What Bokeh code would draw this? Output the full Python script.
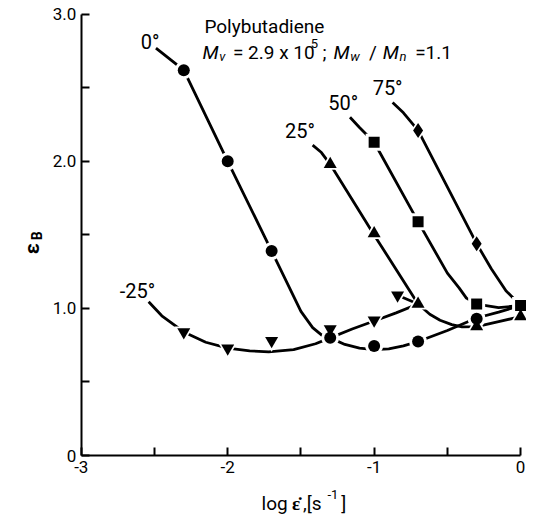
import math
from bokeh.plotting import figure
from bokeh.models import Label, FixedTicker, Range1d
from bokeh.embed import file_html
from bokeh.resources import INLINE

# ---------------- data ----------------
x_ticks = [-3.0, -2.5, -2.0, -1.5, -1.0, -0.5, 0.0]
x_tick_labels = ["-3", "", "-2", "", "-1", "", "0"]
y_ticks = [0.0, 0.5, 1.0, 1.5, 2.0, 2.5, 3.0]
y_tick_labels = ["0", "", "1.0", "", "2.0", "", "3.0"]

# measured points per temperature
pts_m25_x = [-2.3, -2.0, -1.7, -1.3, -1.0, -0.84]
pts_m25_y = [0.84, 0.73, 0.78, 0.86, 0.92, 1.09]
pts_0_x = [-2.3, -2.0, -1.7, -1.3, -1.0, -0.7, -0.3]
pts_0_y = [2.62, 2.0, 1.39, 0.80, 0.745, 0.775, 0.93]
pts_25_x = [-1.3, -1.0, -0.7, -0.3, 0.0]
pts_25_y = [1.98, 1.51, 1.03, 0.877, 0.945]
pts_50_x = [-1.0, -0.7, -0.3, 0.0]
pts_50_y = [2.13, 1.59, 1.03, 1.02]
pts_75_x = [-0.7, -0.3]
pts_75_y = [2.21, 1.44]

# hand-drawn guide curves
crv_m25_x = [-2.54, -2.45, -2.3, -2.15, -2.0, -1.85, -1.72, -1.55, -1.4, -1.3, -1.15, -1.0, -0.85, -0.7]
crv_m25_y = [1.045, 0.95, 0.84, 0.77, 0.73, 0.712, 0.705, 0.72, 0.76, 0.80, 0.86, 0.915, 0.97, 1.03]
crv_m25b_x = [-0.84, -0.7]
crv_m25b_y = [1.09, 1.03]
crv_0_x = [-2.49, -2.3, -2.0, -1.7, -1.5, -1.42, -1.36, -1.3, -1.2, -1.1, -1.0, -0.9, -0.8, -0.7, -0.5, -0.3, -0.15, 0.0]
crv_0_y = [2.77, 2.62, 2.0, 1.39, 0.98, 0.87, 0.82, 0.80, 0.755, 0.73, 0.72, 0.725, 0.745, 0.775, 0.85, 0.935, 0.975, 1.02]
crv_25_x = [-1.42, -1.36, -1.3, -1.0, -0.7, -0.62, -0.55, -0.47, -0.4, -0.3, -0.15, 0.0]
crv_25_y = [2.11, 2.06, 1.98, 1.5, 1.03, 0.96, 0.92, 0.89, 0.875, 0.877, 0.91, 0.945]
crv_50_x = [-1.165, -1.1, -1.0, -0.7, -0.5, -0.42, -0.37, -0.3, -0.15, 0.0]
crv_50_y = [2.30, 2.23, 2.13, 1.59, 1.24, 1.14, 1.07, 1.03, 1.005, 1.02]
crv_75_x = [-0.874, -0.8, -0.7, -0.3, -0.2, -0.1, 0.0]
crv_75_y = [2.40, 2.33, 2.21, 1.44, 1.27, 1.12, 1.02]

FONT = "Roboto"
W, H = 526, 521
KX, KY = W / 534.0, H / 529.0          # reference picture -> canvas
X0_PX, X1_PX = 82 * KX, 528 * KX        # canvas x of -3 and 0
Y0_PX, Y3_PX = 462 * KY, 14 * KY        # canvas y of 0 and 3
SX = (X1_PX - X0_PX) / 3.0
SY = (Y0_PX - Y3_PX) / 3.0

p = figure(width=W, height=H,
           x_range=Range1d(-3 - X0_PX / SX, -3 + (W - X0_PX) / SX),
           y_range=Range1d(-(H - Y0_PX) / SY, Y0_PX / SY),
           output_backend="svg", toolbar_location=None, min_border=0)
p.xgrid.visible = False
p.ygrid.visible = False
p.outline_line_color = None
p.background_fill_color = "white"
p.border_fill_color = "white"

for ax, ticks, labels, loc in ((p.xaxis[0], x_ticks, x_tick_labels, 0.0),
                               (p.yaxis[0], y_ticks, y_tick_labels, -3.0)):
    ax.fixed_location = loc
    ax.ticker = FixedTicker(ticks=ticks)
    ax.major_label_overrides = {t: l for t, l in zip(ticks, labels)}
    ax.bounds = (ticks[0], ticks[-1])
    ax.axis_line_width = 2
    ax.axis_line_color = "black"
    ax.major_tick_line_width = 2
    ax.major_tick_line_color = "black"
    ax.major_tick_in = 8
    ax.major_tick_out = 0
    ax.minor_tick_line_color = None
    ax.major_label_text_font = FONT
    ax.major_label_text_font_size = "17px"
    ax.major_label_text_color = "black"
    ax.major_label_standoff = 5

# curves
for cx, cy in ((crv_m25_x, crv_m25_y), (crv_m25b_x, crv_m25b_y), (crv_0_x, crv_0_y),
               (crv_25_x, crv_25_y), (crv_50_x, crv_50_y), (crv_75_x, crv_75_y)):
    p.line(cx, cy, line_width=2.8, line_color="black", line_join="round", line_cap="butt")

series = [
    (pts_m25_x, pts_m25_y, "inverted_triangle", 13),
    (pts_0_x, pts_0_y, "circle", 12),
    (pts_25_x, pts_25_y, "triangle", 13),
    (pts_50_x, pts_50_y, "square", 11),
    (pts_75_x, pts_75_y, "diamond", 15),
]
# white halos first, then the black markers
for sx, sy, mk, sz in series:
    p.scatter(sx, sy, marker=mk, size=sz + 6, fill_color="white", line_color=None)
for sx, sy, mk, sz in series:
    p.scatter(sx, sy, marker=mk, size=sz, fill_color="black", line_color=None)


def img2data(ix, iy):
    # reference-picture pixel -> data coordinates
    return -3 + (ix * KX - X0_PX) / SX, (Y0_PX - iy * KY) / SY


def lab(text, ix, iy, size, style="normal", align="left", base="alphabetic", angle=0.0):
    x, y = img2data(ix, iy)
    p.add_layout(Label(x=x, y=y, text=text, text_font=FONT, text_font_size=f"{size}px",
                       text_font_style=style, text_align=align, text_baseline=base,
                       text_color="black", angle=angle))


# temperature labels
lab("0°", 152, 42, 20, align="center", base="middle")
lab("25°", 304, 132, 20, align="center", base="middle")
lab("50°", 348, 104, 20, align="center", base="middle")
lab("75°", 393, 89, 20, align="center", base="middle")
lab("-25°", 139, 295, 20, align="center", base="middle")

# header
lab("Polybutadiene", 207, 26, 19)
lab("M", 205, 53, 19, style="italic")
lab("v", 222, 57, 13, style="italic")
lab("= 2.9 x 10", 236, 53, 19)
lab("5", 315, 44, 13)
lab(";", 327, 53, 19)
lab("M", 338, 53, 19, style="italic")
lab("w", 355, 57, 13, style="italic")
lab("/", 374, 53, 19)
lab("M", 388, 53, 19, style="italic")
lab("n", 405, 57, 13, style="italic")
lab("=1.1", 421, 53, 19)

# x axis title
lab("log", 265, 511, 19)
lab("\u03b5\u0307", 296, 511, 19, style="bold")
lab(",[s", 307, 511, 19)
lab("-1", 332, 502, 13)
lab("]", 346, 511, 19)

# y axis title (rotated)
lab("\u03b5", 32, 252, 20, style="bold", align="center", base="middle", angle=math.pi / 2)
lab("B", 37, 239, 14, style="bold", align="center", base="middle", angle=math.pi / 2)

open("out.html", "w").write(file_html(p, INLINE))
